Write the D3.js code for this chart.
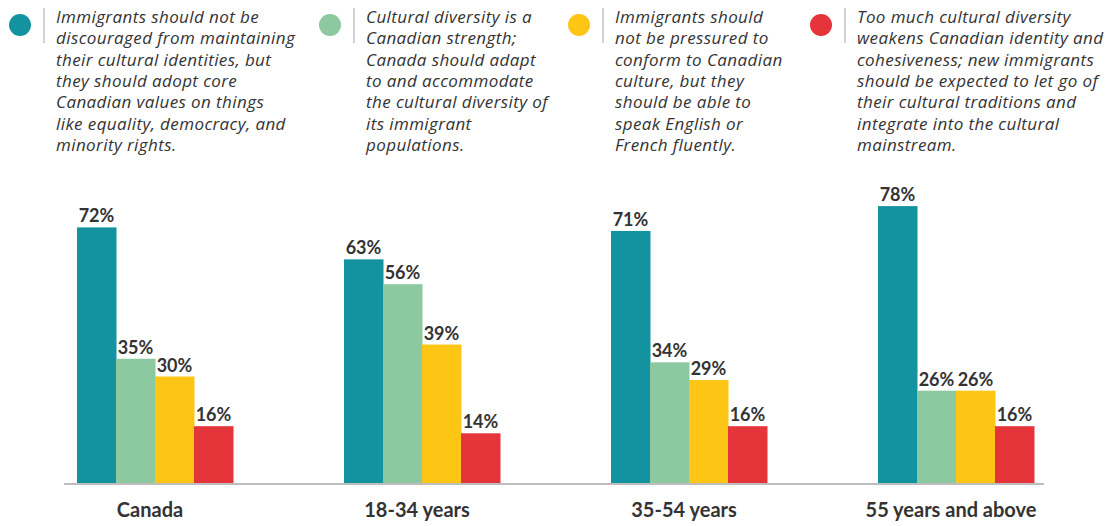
<!DOCTYPE html>
<html>
<head>
<meta charset="utf-8">
<script src="https://cdn.jsdelivr.net/npm/d3@7"></script>
<style>
  html, body { margin: 0; padding: 0; background: #fff; }
  svg { display: block; font-family: Lato, "Open Sans", sans-serif; }
</style>
</head>
<body>
<svg id="chart" width="1119" height="526"></svg>
<script>
// Groups along the x axis
const categories = ["Canada", "18-34 years", "35-54 years", "55 years and above"];

// One entry per statement (series)
const seriesKeys = ["maintain", "strength", "language", "tooMuch"];
const seriesColors = ["#13939f", "#8dc9a0", "#fdc614", "#e5353a"];
const seriesLabels = [
  ["Immigrants should not be", "discouraged from maintaining", "their cultural identities, but", "they should adopt core", "Canadian values on things", "like equality, democracy, and", "minority rights."],
  ["Cultural diversity is a", "Canadian strength;", "Canada should adapt", "to and accommodate", "the cultural diversity of", "its immigrant", "populations."],
  ["Immigrants should", "not be pressured to", "conform to Canadian", "culture, but they", "should be able to", "speak English or", "French fluently."],
  ["Too much cultural diversity", "weakens Canadian identity and", "cohesiveness; new immigrants", "should be expected to let go of", "their cultural traditions and", "integrate into the cultural", "mainstream."]
];

// Percent agreeing, per series, per category
const maintainValues = [72, 63, 71, 78];
const strengthValues = [35, 56, 34, 26];
const languageValues = [30, 39, 29, 26];
const tooMuchValues  = [16, 14, 16, 16];
const seriesValues = [maintainValues, strengthValues, languageValues, tooMuchValues];

const svg = d3.select("#chart");

// Layout
const baseline = 483;
const axisLeft = 64, axisRight = 1044;

const xCenter = d3.scalePoint().domain(categories).range([155, 956]);
const xInner = d3.scaleBand().domain(seriesKeys).range([-78, 78]).padding(0);
const y = d3.scaleLinear().domain([0, 100]).range([baseline, baseline - 355]);

// Bars
const data = [];
categories.forEach((c, ci) => {
  seriesKeys.forEach((k, si) => {
    data.push({ cat: c, key: k, color: seriesColors[si], value: seriesValues[si][ci] });
  });
});

const g = svg.append("g");
g.selectAll("rect.bar")
  .data(data)
  .join("rect")
  .attr("class", "bar")
  .attr("x", d => xCenter(d.cat) + xInner(d.key))
  .attr("width", xInner.bandwidth() + 0.5)
  .attr("y", d => y(d.value))
  .attr("height", d => baseline - y(d.value))
  .attr("fill", d => d.color);

// Value labels
g.selectAll("text.val")
  .data(data)
  .join("text")
  .attr("class", "val")
  .attr("x", d => xCenter(d.cat) + xInner(d.key) + xInner.bandwidth() / 2)
  .attr("y", d => y(d.value) - 5)
  .attr("text-anchor", "middle")
  .attr("font-size", 18)
  .attr("font-weight", 700)
  .attr("fill", "#333")
  .text(d => d.value + "%");

// Baseline
svg.append("line")
  .attr("x1", axisLeft).attr("x2", axisRight)
  .attr("y1", baseline + 1).attr("y2", baseline + 1)
  .attr("stroke", "#bdbdbd").attr("stroke-width", 2);

// Category labels
svg.selectAll("text.cat")
  .data(categories)
  .join("text")
  .attr("class", "cat")
  .attr("x", d => xCenter(d) - 5)
  .attr("y", 517)
  .attr("text-anchor", "middle")
  .attr("font-size", 20)
  .attr("font-weight", 700)
  .attr("fill", "#333")
  .text(d => d);

// Legend
const legendX = [20, 330, 579, 821];
const legend = svg.selectAll("g.leg")
  .data(seriesKeys)
  .join("g")
  .attr("class", "leg")
  .attr("transform", (d, i) => `translate(${legendX[i]},0)`);

legend.append("circle")
  .attr("cx", 0).attr("cy", 25).attr("r", 11)
  .attr("fill", (d, i) => seriesColors[i]);

legend.append("line")
  .attr("x1", 24).attr("x2", 24)
  .attr("y1", 8).attr("y2", 43)
  .attr("stroke", "#c4c4c4").attr("stroke-width", 1.5);

legend.append("text")
  .attr("x", 36)
  .attr("font-family", "'Open Sans', Lato, sans-serif")
  .attr("font-size", 17)
  .attr("letter-spacing", 0.4)
  .attr("font-style", "italic")
  .attr("fill", "#333")
  .selectAll("tspan")
  .data((d, i) => seriesLabels[i])
  .join("tspan")
  .attr("x", 36)
  .attr("y", (d, j) => 23 + j * 21.3)
  .text(d => d);
</script>
</body>
</html>
